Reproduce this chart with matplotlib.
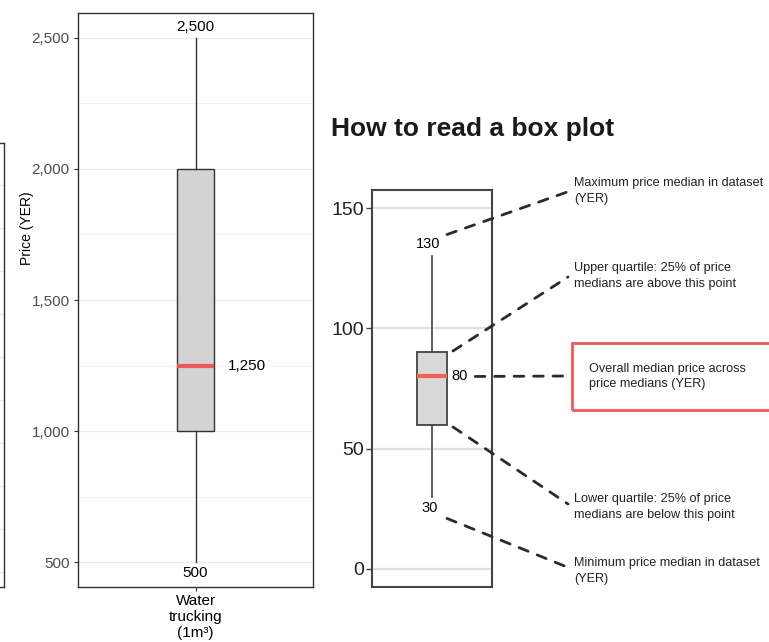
import matplotlib
matplotlib.use("Agg")
import matplotlib.pyplot as plt
from matplotlib.patches import Rectangle, ConnectionPatch
from matplotlib.ticker import FuncFormatter, MultipleLocator

# ---------------- data ----------------
category = ["Water\ntrucking\n(1m³)"]
main_min = [500]
main_q1 = [1000]
main_median = [1250]
main_q3 = [2000]
main_max = [2500]
main_ticks = [500, 1000, 1500, 2000, 2500]

guide_min = 30
guide_q1 = 60
guide_median = 80
guide_q3 = 90
guide_max = 130
guide_ticks = [0, 50, 100, 150]

title_text = "How to read a box plot"
guide_texts = [
    "Maximum price median in dataset\n(YER)",
    "Upper quartile: 25% of price\nmedians are above this point",
    "Overall median price across\nprice medians (YER)",
    "Lower quartile: 25% of price\nmedians are below this point",
    "Minimum price median in dataset\n(YER)",
]

# ---------------- fonts ----------------
REG = "Liberation Sans"
plt.rcParams["font.family"] = [REG, "DejaVu Sans"]

W, H = 769, 642
fig = plt.figure(figsize=(W / 100, H / 100), dpi=100)

def fx(px):
    return px / W

def fy(py):
    return (H - py) / H

DARK = "#333333"
GRID = "#ebebeb"
BOXFILL = "#d3d3d3"
RED = "#ee5859"

# ---------------- fragment of neighbouring panel on far left ----------------
axf = fig.add_axes([fx(-60), fy(587), fx(64), fy(143) - fy(587)])
axf.set_ylim(587, 143)
axf.set_xlim(0, 1)
axf.set_yticks([185 + 43 * k for k in range(10)])
axf.set_xticks([])
axf.tick_params(left=False, labelleft=False)
axf.grid(axis="y", color=GRID, lw=0.8)
for s in axf.spines.values():
    s.set_color(DARK)
    s.set_linewidth(1.0)

# ---------------- main box plot ----------------
ax = fig.add_axes([fx(78), fy(587), fx(313) - fx(78), fy(13) - fy(587)])
stats = [dict(med=main_median[i], q1=main_q1[i], q3=main_q3[i],
              whislo=main_min[i], whishi=main_max[i], label=category[i])
         for i in range(len(category))]
ax.bxp(stats, positions=[1], widths=0.157, showcaps=False, showfliers=False,
       patch_artist=True,
       boxprops=dict(facecolor=BOXFILL, edgecolor=DARK, linewidth=1.0),
       whiskerprops=dict(color=DARK, linewidth=1.0),
       medianprops=dict(color=RED, linewidth=3.0, solid_capstyle="butt"))
ax.set_xlim(0.5, 1.5)
ax.set_ylim(405, 2595)
ax.set_yticks(main_ticks)
ax.yaxis.set_minor_locator(MultipleLocator(250))
ax.yaxis.set_major_formatter(FuncFormatter(lambda v, p: f"{v:,.0f}"))
ax.grid(axis="y", which="major", color=GRID, lw=0.9)
ax.grid(axis="y", which="minor", color=GRID, lw=0.5)
ax.set_axisbelow(True)
ax.tick_params(axis="y", which="major", labelsize=11, labelcolor="#4d4d4d",
               color=DARK, length=3, width=0.8, pad=3)
ax.tick_params(axis="y", which="minor", length=0)
ax.tick_params(axis="x", labelsize=11, labelcolor="black", color=DARK,
               length=3, width=0.8, pad=2)
for lab in ax.get_xticklabels():
    lab.set_linespacing(1.2)
for s in ax.spines.values():
    s.set_color(DARK)
    s.set_linewidth(1.0)
fig.text(fx(27), fy(228), "Price (YER)", rotation=90, ha="center", va="center",
         fontsize=10, color="black")

ax.annotate(f"{main_max[0]:,}", (1, main_max[0]), xytext=(0, 3),
            textcoords="offset points", ha="center", va="bottom", fontsize=11)
ax.annotate(f"{main_min[0]:,}", (1, main_min[0]), xytext=(0, -3),
            textcoords="offset points", ha="center", va="top", fontsize=11)
ax.annotate(f"{main_median[0]:,}", (1 + 0.157 / 2, main_median[0]), xytext=(10, 0),
            textcoords="offset points", ha="left", va="center", fontsize=11)

# ---------------- guide ----------------
fig.text(fx(331), fy(136), title_text, fontsize=19, fontweight="bold",
         color="#1a1a1a", ha="left", va="baseline")

axi = fig.add_axes([fx(372), fy(587), fx(492) - fx(372), fy(190) - fy(587)])
gstats = [dict(med=guide_median, q1=guide_q1, q3=guide_q3,
               whislo=guide_min, whishi=guide_max)]
axi.bxp(gstats, positions=[1], widths=0.25, showcaps=False, showfliers=False,
        patch_artist=True,
        boxprops=dict(facecolor="#d9d9d9", edgecolor="#444444", linewidth=1.3),
        whiskerprops=dict(color="#444444", linewidth=1.2),
        medianprops=dict(color="#f0654f", linewidth=3.0, solid_capstyle="butt"))
axi.set_xlim(0.5, 1.5)
axi.set_ylim(-7.5, 157.5)
axi.set_yticks(guide_ticks)
axi.set_xticks([])
axi.grid(axis="y", color="#e0e0e0", lw=1.6)
axi.set_axisbelow(True)
axi.tick_params(axis="y", labelsize=14, labelcolor="#222222", color="#444444",
                length=4, width=1.0, pad=2)
for s in axi.spines.values():
    s.set_color("#444444")
    s.set_linewidth(1.5)

axi.annotate(str(guide_max), (1, guide_max), xytext=(-3, 4), textcoords="offset points",
             ha="center", va="bottom", fontsize=10.5)
axi.annotate(str(guide_min), (1, guide_min), xytext=(-2, -3), textcoords="offset points",
             ha="center", va="top", fontsize=10.5)
axi.annotate(str(guide_median), (1 + 0.125, guide_median), xytext=(3, 0),
             textcoords="offset points", ha="left", va="center", fontsize=10.5)

# connector lines: start in the guide axes (x in axes fraction, y in data), end in figure
trA = axi.get_yaxis_transform()
starts = [(0.625, guide_max + 9), (0.675, guide_q3 + 0.6), (0.86, guide_median),
          (0.675, guide_q1 - 1), (0.625, guide_min - 9)]
end_y = [191, 277, 376, 504, 567]
end_x = [570, 568, 568, 568, 567]
for (xa, ya), ex, ey in zip(starts, end_x, end_y):
    cp = ConnectionPatch(xyA=(xa, ya), coordsA=trA, xyB=(fx(ex), fy(ey)),
                         coordsB=fig.transFigure, color="#2b2b2b", lw=2.0,
                         linestyle=(0, (3.5, 3.5)))
    fig.add_artist(cp)

text_y = [191, 276, 376.5, 507, 571]
for i, (t, ty) in enumerate(zip(guide_texts, text_y)):
    x0 = 589 if i == 2 else 574
    fig.text(fx(x0), fy(ty), t, fontsize=9.1, color="#222222",
             ha="left", va="center", linespacing=1.4)

fig.add_artist(Rectangle((fx(572), fy(410)), fx(260), fy(343) - fy(410),
                         transform=fig.transFigure, fill=False,
                         edgecolor=RED, lw=2.0))

fig.savefig("out.png", dpi=100)
